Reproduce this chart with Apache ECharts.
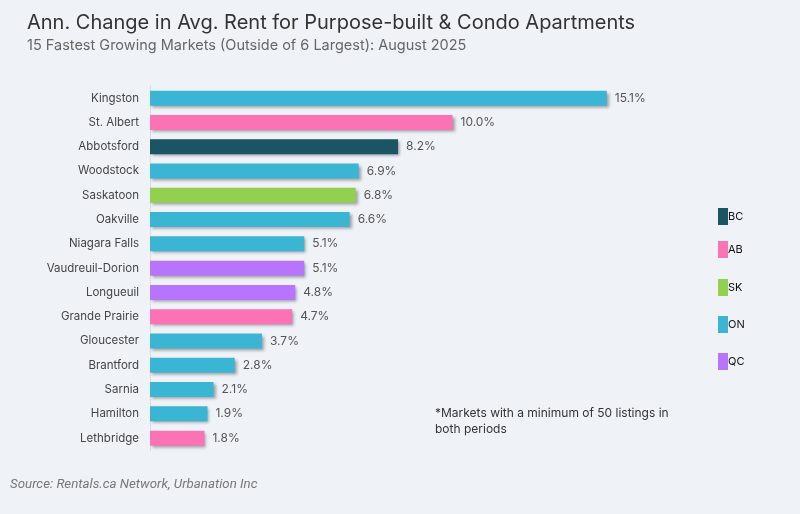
<!DOCTYPE html>
<html><head><meta charset="utf-8">
<script src="https://cdn.jsdelivr.net/npm/echarts@6/dist/echarts.min.js"></script>
<style>html,body{margin:0;padding:0;background:#eff3f8}#c{width:800px;height:514px}</style>
</head><body><div id="c"></div>
<script>
const categories = ["Kingston","St. Albert","Abbotsford","Woodstock","Saskatoon","Oakville","Niagara Falls","Vaudreuil-Dorion","Longueuil","Grande Prairie","Gloucester","Brantford","Sarnia","Hamilton","Lethbridge"];
const values = [15.1,10.0,8.2,6.9,6.8,6.6,5.1,5.1,4.8,4.7,3.7,2.8,2.1,1.9,1.8];
const provinces = ["ON","AB","BC","ON","SK","ON","ON","QC","QC","AB","ON","ON","ON","ON","AB"];
const provinceOrder = ["BC","AB","SK","ON","QC"];
const provinceColors = {BC:"#1b5563",AB:"#fb72b5",SK:"#92d050",ON:"#3bb5d4",QC:"#b874fc"};
const legendTops = [203,236,274,311,348];

const chart = echarts.init(document.getElementById('c'));
const series = provinceOrder.map(p => ({
  name: p, type: 'bar', stack: 'total', barWidth: 15,
  itemStyle: {color: provinceColors[p], shadowColor:'rgba(0,0,0,0.35)', shadowBlur:3, shadowOffsetX:2, shadowOffsetY:2},
  label: {show:true, position:'right', distance:8, formatter: d => d.value.toFixed(1)+'%', color:'#555', fontSize:12, fontFamily:'Inter'},
  data: values.map((v,i) => provinces[i]===p ? v : '-')
}));
chart.setOption({
  backgroundColor:'#eff3f8',
  animation:false,
  textStyle:{fontFamily:'Inter'},
  title:[
    {text:'Ann. Change in Avg. Rent for Purpose-built & Condo Apartments', left:22, top:8,
     textStyle:{fontSize:20, fontWeight:'normal', color:'#333', fontFamily:'Inter'}},
    {text:'15 Fastest Growing Markets (Outside of 6 Largest): August 2025', left:22, top:33,
     textStyle:{fontSize:14.5, fontWeight:'normal', color:'#666', fontFamily:'Inter'}},
    {text:'*Markets with a minimum of 50 listings in\nboth periods', left:430, top:400,
     textStyle:{fontSize:12, fontWeight:'normal', color:'#333', lineHeight:16, fontFamily:'Inter'}},
    {text:'Source: Rentals.ca Network, Urbanation Inc', left:5, top:473,
     textStyle:{fontSize:13.3, fontWeight:'normal', fontStyle:'italic', color:'#777', fontFamily:'Roboto'}}
  ],
  legend: provinceOrder.map((p,i) => ({
    data:[p], orient:'vertical', left:713, top:legendTops[i], itemWidth:10, itemHeight:17, itemGap:0,
    icon:'rect', textStyle:{fontSize:11, color:'#111', padding:[0,0,0,-5]}, selectedMode:false
  })),
  grid:{left:150, right:45, top:86, height:364.3},
  xAxis:{type:'value', min:0, max:20, show:false},
  yAxis:{type:'category', data:categories, inverse:true,
    axisLine:{show:true, lineStyle:{color:'#d9dde3', width:1}}, axisTick:{show:false},
    axisLabel:{color:'#444', fontSize:11.5, margin:11}},
  series
});
</script></body></html>
